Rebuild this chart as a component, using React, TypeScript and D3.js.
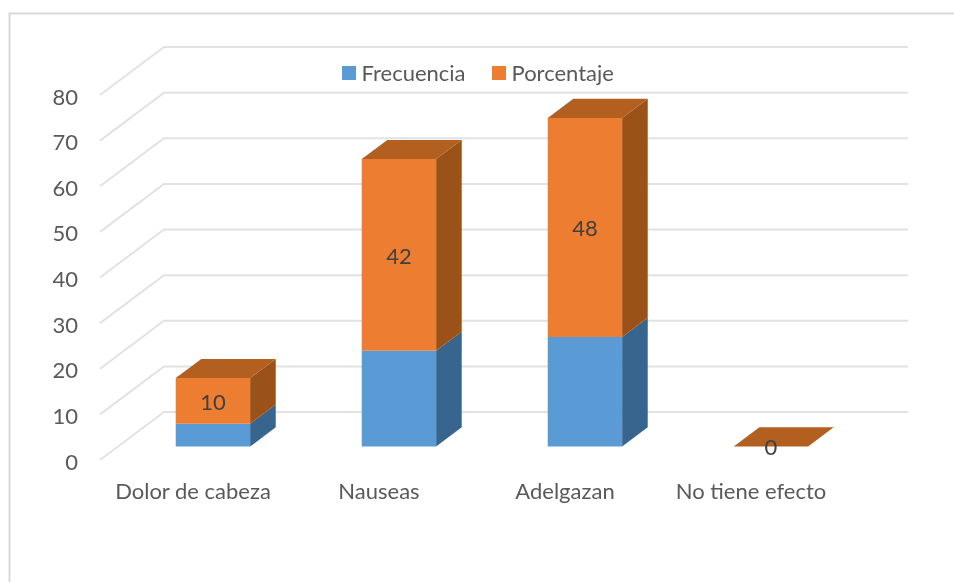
import React, { useEffect, useRef } from "react";
import * as d3 from "d3";

const categories = ["Dolor de cabeza", "Nauseas", "Adelgazan", "No tiene efecto"];
const frecuencia = [5, 21, 24, 0];
const porcentaje = [10, 42, 48, 0];
const seriesNames = ["Frecuencia", "Porcentaje"];
const yTicks = [0, 10, 20, 30, 40, 50, 60, 70, 80];

const FRONT = ["#5b9bd5", "#ed7d31"];
const SIDE = ["#38658d", "#9a5219"];
const TOP = ["#41719c", "#b35f20"];
const GRID = "#e2e2e2";
const FONT = "Lato, 'Open Sans', sans-serif";
const FONT_SIZE = "22px";

const W = 954;
const H = 582;
// plano frontal del suelo y profundidad de la caja 3D
const FLOOR_Y = 460;
const LEFT = 100;
const PLOT_W = 744;
const DEPTH_X = 64;
const DEPTH_Y = 48;
const BAR_D0 = 0.28;
const BAR_D1 = 0.68;
const BAR_SHIFT = 2;

const App: React.FC = () => {
    const svgRef = useRef<SVGSVGElement>(null);

    useEffect(() => {
        if (!svgRef.current) return;
        const svg = d3.select(svgRef.current);
        svg.selectAll("*").remove();

        const y = d3.scaleLinear().domain([0, 80]).range([FLOOR_Y, FLOOR_Y - 365]);
        const x = d3.scaleBand<string>()
            .domain(categories)
            .range([LEFT, LEFT + PLOT_W])
            .paddingInner(0.6)
            .paddingOuter(0.3);
        const depth = d3.scaleLinear().domain([0, 1]);
        const dx = depth.copy().range([0, DEPTH_X]);
        const dy = depth.copy().range([0, -DEPTH_Y]);

        const pt = (px: number, v: number, d: number): [number, number] => [px + dx(d), y(v) + dy(d)];
        const poly = (pts: [number, number][]) => d3.line()(pts)! + "Z";

        // marco
        svg.append("path")
            .attr("d", `M9.5,${H}V13.5H${W}`)
            .attr("fill", "none")
            .attr("stroke", "#d9d9d9")
            .attr("stroke-width", 2);

        // rejilla: pared lateral + pared del fondo
        svg.append("g")
            .selectAll("path")
            .data(yTicks)
            .enter()
            .append("path")
            .attr("d", (t) => d3.line()([pt(LEFT, t, 0), pt(LEFT, t, 1), pt(LEFT + PLOT_W, t, 1)]))
            .attr("fill", "none")
            .attr("stroke", GRID)
            .attr("stroke-width", 2);

        // eje Y
        const yAxis = svg.append("g")
            .attr("transform", "translate(78,2)")
            .call(d3.axisLeft(y).tickValues(yTicks).tickSize(0).tickPadding(0));
        yAxis.select(".domain").remove();
        yAxis.selectAll("text")
            .attr("fill", "#595959")
            .attr("font-size", FONT_SIZE)
            .attr("font-family", FONT);

        // barras apiladas
        const rows = categories.map((c, i) => ({ c, Frecuencia: frecuencia[i], Porcentaje: porcentaje[i] }));
        const stacked = d3.stack<(typeof rows)[number]>().keys(seriesNames)(rows);

        stacked.forEach((layer, s) => {
            const g = svg.append("g");
            layer.forEach((seg, i) => {
                const x0 = x(categories[i])! + BAR_SHIFT;
                const x1 = x0 + x.bandwidth();
                const [v0, v1] = seg;
                if (v1 > v0) {
                    g.append("path")
                        .attr("d", poly([pt(x1, v0, BAR_D0), pt(x1, v0, BAR_D1), pt(x1, v1, BAR_D1), pt(x1, v1, BAR_D0)]))
                        .attr("fill", SIDE[s]);
                    g.append("path")
                        .attr("d", poly([pt(x0, v0, BAR_D0), pt(x1, v0, BAR_D0), pt(x1, v1, BAR_D0), pt(x0, v1, BAR_D0)]))
                        .attr("fill", FRONT[s]);
                }
                // tapa superior de la serie de arriba
                if (s === stacked.length - 1) {
                    g.append("path")
                        .attr("d", poly([pt(x0, v1, BAR_D0), pt(x1, v1, BAR_D0), pt(x1, v1, BAR_D1), pt(x0, v1, BAR_D1)]))
                        .attr("fill", TOP[s]);
                }
            });
        });

        // etiquetas de datos
        svg.append("g")
            .selectAll("text")
            .data(stacked[1])
            .enter()
            .append("text")
            .attr("x", (_d, i) => x(categories[i])! + BAR_SHIFT + x.bandwidth() / 2 + dx(BAR_D0))
            .attr("y", (d) => pt(0, (d[0] + d[1]) / 2, BAR_D0)[1] + 1)
            .attr("dy", "0.35em")
            .attr("text-anchor", "middle")
            .attr("fill", "#404040")
            .attr("font-size", FONT_SIZE)
            .attr("font-family", FONT)
            .text((_d, i) => porcentaje[i]);

        // eje X
        svg.append("g")
            .selectAll("text")
            .data(categories)
            .enter()
            .append("text")
            .attr("x", (c) => x(c)! + x.bandwidth() / 2)
            .attr("y", 499)
            .attr("text-anchor", "middle")
            .attr("fill", "#595959")
            .attr("font-size", FONT_SIZE)
            .attr("font-family", FONT)
            .text((c) => c);

        // leyenda
        const legendX = [342, 492];
        const legend = svg.append("g")
            .selectAll("g")
            .data(seriesNames)
            .enter()
            .append("g")
            .attr("transform", (_d, i) => `translate(${legendX[i]},66)`);
        legend.append("rect")
            .attr("width", 14)
            .attr("height", 14)
            .attr("fill", (_d, i) => FRONT[i]);
        legend.append("text")
            .attr("x", 19.5)
            .attr("y", 14.5)
            .attr("fill", "#595959")
            .attr("font-size", FONT_SIZE)
            .attr("font-family", FONT)
            .text((d) => d);
    }, []);

    return (
        <svg
            ref={svgRef}
            width={W}
            height={H}
            viewBox={`0 0 ${W} ${H}`}
            style={{ position: "absolute", left: 0, top: 0, display: "block", background: "#fff", filter: "blur(0.4px)" }}
        />
    );
};

export default App;
